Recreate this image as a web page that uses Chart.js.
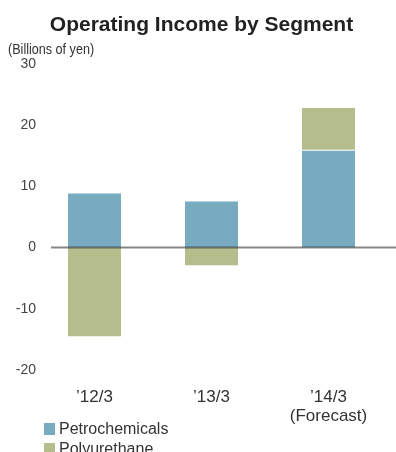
<!DOCTYPE html>
<html>
<head>
<meta charset="utf-8">
<script src="https://cdn.jsdelivr.net/npm/chart.js@4/dist/chart.umd.min.js"></script>
<style>
  body { margin: 0; background: #fff; }
  #wrap { position: relative; width: 396px; height: 452px; overflow: hidden; }
  #title { position: absolute; left: 0; top: 12px; width: 403px; text-align: center;
    font: bold 21px 'Liberation Sans', Arial, sans-serif; color: #222; }
  #unit { position: absolute; left: 8px; top: 41px; transform: scaleX(0.9); transform-origin: left top;
    font: 14px 'Liberation Sans', Arial, sans-serif; color: #333; }
  #legend { position: absolute; left: 44px; top: 419px;
    font: 16px 'Liberation Sans', Arial, sans-serif; color: #333; }
  #legend div { height: 20px; line-height: 16px; display: flex; align-items: center; }
  #legend span.box { display: inline-block; width: 11px; height: 12px; margin-right: 4px; }
</style>
</head>
<body>
<div id="wrap">
  <canvas id="chart" width="396" height="452"></canvas>
  <div id="title">Operating Income by Segment</div>
  <div id="unit">(Billions of yen)</div>
  <div id="legend"></div>
</div>
<script>
const categories = [["\u201912/3"], ["\u201913/3"], ["\u201914/3", "(Forecast)"]];
const petrochemicals = [9.0, 7.7, 16.0];
const polyurethane = [-14.5, -2.9, 6.8];
const seriesNames = ["Petrochemicals", "Polyurethane"];
const seriesColors = ["#78abc0", "#b6bd8d"];

// zero line drawn over the bars, like the original
const zeroLine = {
    id: 'zeroLine',
    afterDatasetsDraw(chart) {
        const y = chart.scales.y.getPixelForValue(0);
        const ctx = chart.ctx;
        ctx.save();
        ctx.strokeStyle = 'rgba(0,0,0,0.47)';
        ctx.lineWidth = 2;
        ctx.beginPath();
        ctx.moveTo(chart.scales.y.right + 15, y);
        ctx.lineTo(chart.width, y);
        ctx.stroke();
        ctx.restore();
    }
};

const ctx = document.getElementById("chart").getContext('2d');
new Chart(ctx, {
    type: "bar",
    data: {
        labels: categories,
        datasets: [{
            label: seriesNames[0],
            data: petrochemicals,
            backgroundColor: seriesColors[0],
            borderColor: '#ffffff',
            borderWidth: { top: 1, right: 0, bottom: 0, left: 0 },
            borderSkipped: false
        }, {
            label: seriesNames[1],
            data: polyurethane,
            backgroundColor: seriesColors[1],
            borderWidth: 0
        }]
    },
    options: {
        responsive: false,
        animation: false,
        categoryPercentage: 1,
        barPercentage: 0.453,
        layout: { padding: { top: 64, left: 0, right: 9, bottom: 0 } },
        plugins: {
            legend: { display: false },
            tooltip: { enabled: false }
        },
        scales: {
            x: {
                stacked: true,
                grid: { display: false, drawTicks: false },
                border: { display: false },
                ticks: {
                    color: '#333',
                    padding: 18,
                    maxRotation: 0,
                    font: { family: "'Liberation Sans', Arial, sans-serif", size: 17, lineHeight: 1.1 }
                },
                afterFit: (scale) => { scale.height = 82; }
            },
            y: {
                stacked: true,
                min: -20,
                max: 30,
                grid: { display: false, drawTicks: false },
                border: { display: false },
                ticks: {
                    stepSize: 10,
                    color: '#444',
                    padding: 0,
                    font: { family: "'Liberation Sans', Arial, sans-serif", size: 14 }
                },
                afterFit: (scale) => { scale.width = 36; }
            }
        }
    },
    plugins: [zeroLine]
});

const legend = document.getElementById("legend");
seriesNames.forEach((name, i) => {
    const row = document.createElement("div");
    row.innerHTML = '<span class="box" style="background:' + seriesColors[i] + '"></span>' + name;
    legend.appendChild(row);
});
</script>
</body>
</html>
